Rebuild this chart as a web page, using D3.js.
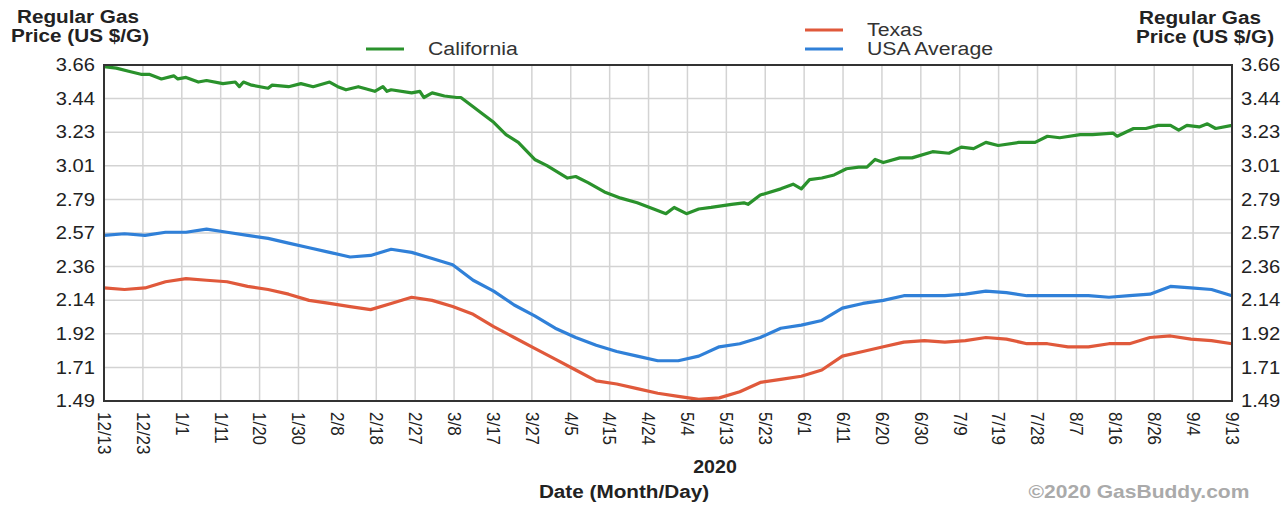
<!DOCTYPE html>
<html><head><meta charset="utf-8">
<script src="https://cdn.jsdelivr.net/npm/d3@7"></script>
<style>body{margin:0;background:#fff;} svg{display:block;font-family:"Liberation Sans",Arial,sans-serif;}</style>
</head><body><svg id="chart" width="1287" height="508"></svg>
<script>
// California (read at finer resolution)
const californiaDates = ["2019-12-13","2019-12-16","2019-12-19","2019-12-22","2019-12-24","2019-12-27","2019-12-30","2019-12-31",
"2020-01-02","2020-01-05","2020-01-07","2020-01-11","2020-01-14","2020-01-15","2020-01-16","2020-01-18","2020-01-22","2020-01-23",
"2020-01-27","2020-01-30","2020-02-02","2020-02-06","2020-02-08","2020-02-10","2020-02-13","2020-02-17","2020-02-19","2020-02-20",
"2020-02-21","2020-02-26","2020-02-28","2020-02-29","2020-03-02","2020-03-05","2020-03-08","2020-03-09","2020-03-12","2020-03-14",
"2020-03-17","2020-03-20","2020-03-23","2020-03-27","2020-03-30","2020-04-04","2020-04-06","2020-04-09","2020-04-13","2020-04-17",
"2020-04-21","2020-04-25","2020-04-28","2020-04-30","2020-05-03","2020-05-06","2020-05-09","2020-05-14","2020-05-17","2020-05-18",
"2020-05-21","2020-05-26","2020-05-29","2020-05-31","2020-06-02","2020-06-05","2020-06-08","2020-06-11","2020-06-14","2020-06-16",
"2020-06-18","2020-06-20","2020-06-24","2020-06-27","2020-07-02","2020-07-06","2020-07-09","2020-07-12","2020-07-15","2020-07-18",
"2020-07-23","2020-07-27","2020-07-30","2020-08-02","2020-08-07","2020-08-10","2020-08-15","2020-08-16","2020-08-20","2020-08-23",
"2020-08-26","2020-08-29","2020-08-31","2020-09-02","2020-09-05","2020-09-07","2020-09-09","2020-09-13"];
const california = [3.65,3.64,3.62,3.60,3.60,3.57,3.59,3.57,
3.58,3.55,3.56,3.54,3.55,3.52,3.55,3.53,3.51,3.53,
3.52,3.54,3.52,3.55,3.52,3.50,3.52,3.49,3.52,3.49,
3.50,3.48,3.49,3.45,3.48,3.46,3.45,3.45,3.39,3.35,
3.29,3.21,3.16,3.05,3.01,2.93,2.94,2.90,2.84,2.80,
2.77,2.73,2.70,2.74,2.70,2.73,2.74,2.76,2.77,2.76,
2.82,2.86,2.89,2.86,2.92,2.93,2.95,2.99,3.00,3.00,
3.05,3.03,3.06,3.06,3.10,3.09,3.13,3.12,3.16,3.14,
3.16,3.16,3.20,3.19,3.21,3.21,3.22,3.20,3.25,3.25,
3.27,3.27,3.24,3.27,3.26,3.28,3.25,3.27];

// Texas and USA Average (read every 5 days)
const sampleDates = ["2019-12-13","2019-12-18","2019-12-23","2019-12-28","2020-01-02","2020-01-07","2020-01-12","2020-01-17","2020-01-22","2020-01-27",
"2020-02-01","2020-02-06","2020-02-11","2020-02-16","2020-02-21","2020-02-26","2020-03-02","2020-03-07","2020-03-12","2020-03-17",
"2020-03-22","2020-03-27","2020-04-01","2020-04-06","2020-04-11","2020-04-16","2020-04-21","2020-04-26","2020-05-01","2020-05-06",
"2020-05-11","2020-05-16","2020-05-21","2020-05-26","2020-05-31","2020-06-05","2020-06-10","2020-06-15","2020-06-20","2020-06-25",
"2020-06-30","2020-07-05","2020-07-10","2020-07-15","2020-07-20","2020-07-25","2020-07-30","2020-08-04","2020-08-09","2020-08-14",
"2020-08-19","2020-08-24","2020-08-29","2020-09-03","2020-09-08","2020-09-13"];
const texas = [2.22,2.21,2.22,2.26,2.28,2.27,2.26,2.23,2.21,2.18,
2.14,2.12,2.10,2.08,2.12,2.16,2.14,2.10,2.05,1.97,
1.90,1.83,1.76,1.69,1.62,1.60,1.57,1.54,1.52,1.50,
1.51,1.55,1.61,1.63,1.65,1.69,1.78,1.81,1.84,1.87,
1.88,1.87,1.88,1.90,1.89,1.86,1.86,1.84,1.84,1.86,
1.86,1.90,1.91,1.89,1.88,1.86];
const usaAverage = [2.56,2.57,2.56,2.58,2.58,2.60,2.58,2.56,2.54,2.51,
2.48,2.45,2.42,2.43,2.47,2.45,2.41,2.37,2.27,2.20,
2.11,2.04,1.96,1.90,1.85,1.81,1.78,1.75,1.75,1.78,
1.84,1.86,1.90,1.96,1.98,2.01,2.09,2.12,2.14,2.17,
2.17,2.17,2.18,2.20,2.19,2.17,2.17,2.17,2.17,2.16,
2.17,2.18,2.23,2.22,2.21,2.17];

const xTickLabels = ["12/13","12/23","1/1","1/11","1/20","1/30","2/8","2/18","2/27","3/8","3/17","3/27","4/5","4/15","4/24",
"5/4","5/13","5/23","6/1","6/11","6/20","6/30","7/9","7/19","7/28","8/7","8/16","8/26","9/4","9/13"];
const yTickLabels = ["1.49","1.71","1.92","2.14","2.36","2.57","2.79","3.01","3.23","3.44","3.66"];
const seriesNames = ["California","Texas","USA Average"];
const seriesColors = ["#2a922c","#e0593b","#3080d8"];

const svg = d3.select("#chart");
const L = 104, R = 1232, T = 65, B = 401;
const parse = d3.utcParse("%Y-%m-%d");
const x = d3.scaleUtc().domain([parse(sampleDates[0]), parse(sampleDates[sampleDates.length-1])]).range([L, R]);
const y = d3.scaleLinear().domain([1.49, 3.66]).range([B, T]);
const SX = 1.12;

const [d0, d1] = x.domain();
const t0 = d0.getTime(), t1 = d1.getTime();
const xTicks = xTickLabels.map((_, i) => new Date(t0 + (t1 - t0) * i / (xTickLabels.length - 1)));
const yTicks = yTickLabels.map((_, i) => 1.49 + (3.66 - 1.49) * i / (yTickLabels.length - 1));

// grid
const grid = svg.append("g").attr("stroke", "#d3d3d3").attr("stroke-width", 1.5);
grid.selectAll(".vx").data(xTicks).join("line")
  .attr("x1", d => x(d)).attr("x2", d => x(d)).attr("y1", T).attr("y2", B);
grid.selectAll(".hy").data(yTicks).join("line")
  .attr("y1", d => y(d)).attr("y2", d => y(d)).attr("x1", L).attr("x2", R);

// axes
const fmtY = (d, i) => yTickLabels[i];
const yl = svg.append("g").attr("transform", `translate(${L},0)`)
  .call(d3.axisLeft(y).tickValues(yTicks).tickFormat(fmtY).tickSize(0).tickPadding(9));
const yr = svg.append("g").attr("transform", `translate(${R},0)`)
  .call(d3.axisRight(y).tickValues(yTicks).tickFormat(fmtY).tickSize(0).tickPadding(9));
const xa = svg.append("g").attr("transform", `translate(0,${B})`)
  .call(d3.axisBottom(x).tickValues(xTicks).tickFormat((d, i) => xTickLabels[i]).tickSize(0));
[yl, yr, xa].forEach(g => {
  g.select(".domain").remove();
  g.selectAll("text").attr("font-family", "Liberation Sans, Arial, sans-serif").attr("fill", "#222");
});
yl.selectAll("text").attr("font-size", 18).attr("transform", `scale(${SX},1)`).attr("x", -9 / SX);
yr.selectAll("text").attr("font-size", 18).attr("transform", `scale(${SX},1)`).attr("x", 9 / SX);
xa.selectAll("text").attr("font-size", 17).attr("text-anchor", "start")
  .attr("transform", `rotate(90) scale(1,${SX})`).attr("x", 11).attr("y", 0).attr("dy", "0.35em");

// lines
const series = [
  {dates: californiaDates, values: california},
  {dates: sampleDates, values: texas},
  {dates: sampleDates, values: usaAverage}
].map(s => s.dates.map((d, i) => [parse(d), s.values[i]]));
const line = d3.line().x(d => x(d[0])).y(d => y(d[1])).curve(d3.curveLinear);
[1, 2, 0].forEach(k => {
  svg.append("path").datum(series[k]).attr("d", line)
    .attr("fill", "none").attr("stroke", seriesColors[k]).attr("stroke-width", 3.2)
    .attr("stroke-linejoin", "round");
});

// border
svg.append("rect").attr("x", L).attr("y", T).attr("width", R - L).attr("height", B - T)
  .attr("fill", "none").attr("stroke", "#333").attr("stroke-width", 2);

function txt(xp, yp, s, o) {
  o = o || {};
  return svg.append("text").attr("transform", `translate(${xp},${yp}) scale(${o.sx || SX},1)`)
    .attr("text-anchor", o.anchor || "start").attr("font-size", o.size || 18)
    .attr("font-weight", o.bold ? "bold" : "normal").attr("fill", o.fill || "#222").text(s);
}
// axis titles
txt(78, 23, "Regular Gas", {anchor: "middle", bold: true, size: 18.5});
txt(80, 42, "Price (US $/G)", {anchor: "middle", bold: true, size: 18.5});
txt(1200, 24, "Regular Gas", {anchor: "middle", bold: true, size: 18.5});
txt(1205, 43, "Price (US $/G)", {anchor: "middle", bold: true, size: 18.5});
txt(715, 473, "2020", {anchor: "middle", bold: true, size: 17.5});
txt(624, 498, "Date (Month/Day)", {anchor: "middle", bold: true, size: 18.5});
txt(1139, 498, "©2020 GasBuddy.com", {anchor: "middle", bold: true, size: 18.8, fill: "#aaa"});

// legend
const legendPos = [[366, 49], [805, 30], [805, 49]];
seriesNames.forEach((n, k) => {
  const [lx, ly] = legendPos[k];
  svg.append("line").attr("x1", lx).attr("x2", lx + 38).attr("y1", ly).attr("y2", ly)
    .attr("stroke", seriesColors[k]).attr("stroke-width", 3.2);
  txt(lx + 62, ly + 6, n, {size: 19, fill: "#333"});
});
</script></body></html>
